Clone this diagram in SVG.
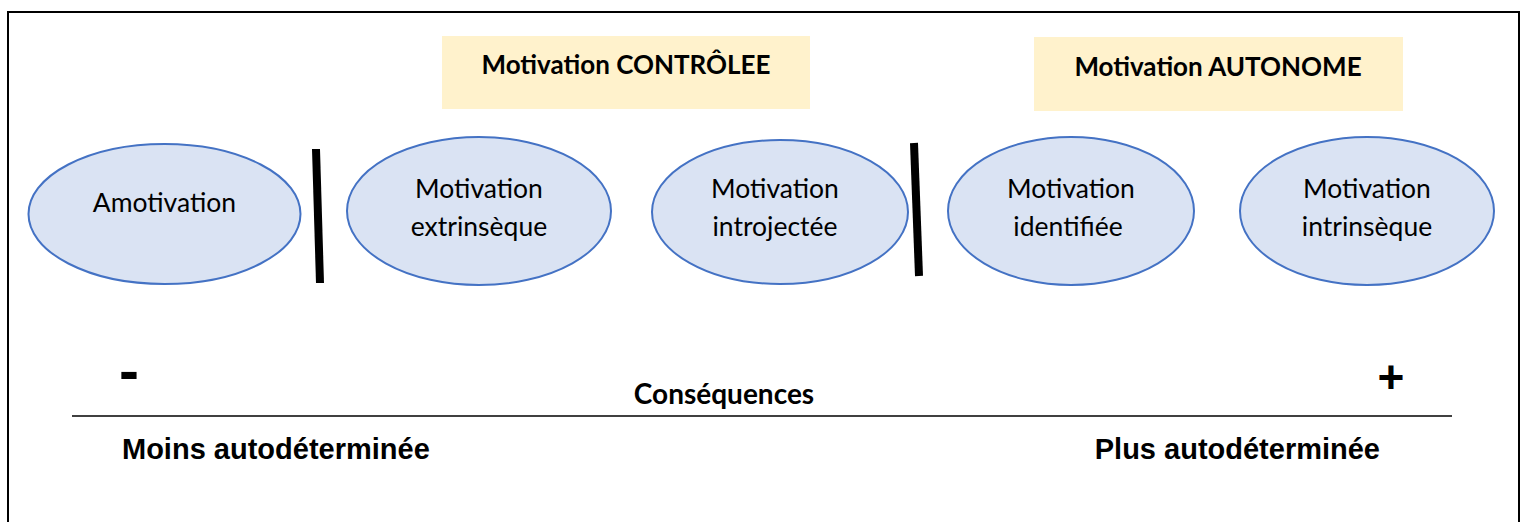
<svg xmlns="http://www.w3.org/2000/svg" width="1523" height="522" viewBox="0 0 1523 522">
  <style>
    .frame { fill: #ffffff; stroke: #000000; stroke-width: 2; }
    .band { fill: #FFF2CC; }
    .band-label { font-family: Lato, "Liberation Sans", sans-serif; font-weight: bold; font-size: 26px; fill: #000; text-anchor: middle; }
    .stage { fill: #DAE3F3; stroke: #4472C4; stroke-width: 2; }
    .stage-label { font-family: Lato, "Liberation Sans", sans-serif; font-size: 26.5px; fill: #000; text-anchor: middle; }
    .divider { stroke: #000; stroke-width: 8; }
    .axis { stroke: #000; stroke-width: 1.5; }
    .axis-label { font-family: "Liberation Sans", Arial, sans-serif; font-weight: bold; fill: #000; }
    .axis-title { font-family: Lato, "Liberation Sans", sans-serif; font-weight: bold; font-size: 28px; fill: #000; text-anchor: middle; }
  </style>

  <rect class="frame" x="8" y="12" width="1511" height="530"/>

  <!-- category bands -->
  <g id="band-controlee">
    <rect class="band" x="442" y="36" width="368" height="73"/>
    <text class="band-label" x="626" y="74">Motivation CONTRÔLEE</text>
  </g>
  <g id="band-autonome">
    <rect class="band" x="1034" y="37" width="369" height="74"/>
    <text class="band-label" x="1218" y="76">Motivation AUTONOME</text>
  </g>

  <!-- motivation stages -->
  <g id="amotivation">
    <ellipse class="stage" cx="164.5" cy="214" rx="136" ry="70"/>
    <text class="stage-label" x="164.5" y="212">Amotivation</text>
  </g>
  <g id="extrinseque">
    <ellipse class="stage" cx="479" cy="211" rx="132" ry="74"/>
    <text class="stage-label" x="479" y="198">Motivation</text>
    <text class="stage-label" x="479" y="236">extrinsèque</text>
  </g>
  <g id="introjectee">
    <ellipse class="stage" cx="780" cy="212" rx="128" ry="72"/>
    <text class="stage-label" x="775" y="198">Motivation</text>
    <text class="stage-label" x="775" y="236">introjectée</text>
  </g>
  <g id="identifiee">
    <ellipse class="stage" cx="1071" cy="211" rx="123" ry="74"/>
    <text class="stage-label" x="1071" y="198">Motivation</text>
    <text class="stage-label" x="1068" y="236">identifiée</text>
  </g>
  <g id="intrinseque">
    <ellipse class="stage" cx="1367" cy="211" rx="127" ry="74"/>
    <text class="stage-label" x="1367" y="198">Motivation</text>
    <text class="stage-label" x="1367" y="236">intrinsèque</text>
  </g>

  <!-- separators between amotivation / controlled / autonomous -->
  <g id="connectors">
    <line class="divider" x1="316" y1="149" x2="320" y2="283"/>
    <line class="divider" x1="914" y1="143" x2="919" y2="276"/>
    <line class="axis" x1="72" y1="416" x2="1452" y2="416"/>
  </g>

  <!-- continuum axis -->
  <g id="axis-labels">
    <text class="axis-label" x="119" y="391" font-size="60">-</text>
    <text class="axis-label" x="1391" y="393" font-size="46" text-anchor="middle">+</text>
    <text class="axis-title" x="724" y="404">Conséquences</text>
    <text class="axis-label" x="122" y="459" font-size="29">Moins autodéterminée</text>
    <text class="axis-label" x="1380" y="459" font-size="29" text-anchor="end">Plus autodéterminée</text>
  </g>
</svg>
